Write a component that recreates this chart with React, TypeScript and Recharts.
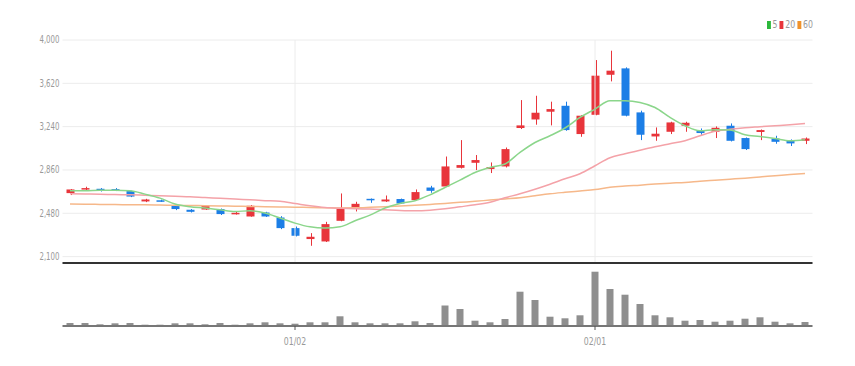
import { ComposedChart, BarChart, Bar, Line, XAxis, YAxis, CartesianGrid, ReferenceLine } from 'recharts';

// trading days, Dec 2022 - Feb 2023
const dates = [
    '12/09', '12/12', '12/13', '12/14', '12/15', '12/16', '12/19', '12/20', '12/21', '12/22',
    '12/23', '12/26', '12/27', '12/28', '12/29', '01/02', '01/03', '01/04', '01/05', '01/06',
    '01/09', '01/10', '01/11', '01/12', '01/13', '01/16', '01/17', '01/18', '01/19', '01/20',
    '01/25', '01/26', '01/27', '01/30', '01/31', '02/01', '02/02', '02/03', '02/06', '02/07',
    '02/08', '02/09', '02/10', '02/13', '02/14', '02/15', '02/16', '02/17', '02/20', '02/21',
];

const opens = [
    2657, 2695, 2695, 2692, 2675, 2584, 2594, 2552, 2511, 2513,
    2517, 2473, 2452, 2487, 2443, 2350, 2254, 2233, 2414, 2520,
    2607, 2584, 2605, 2596, 2706, 2715, 2879, 2923, 2868, 2891,
    3228, 3303, 3371, 3423, 3175, 3344, 3695, 3751, 3365, 3154,
    3195, 3248, 3207, 3195, 3248, 3140, 3193, 3136, 3119, 3116,
];
const highs = [
    2692, 2713, 2701, 2701, 2678, 2607, 2600, 2559, 2517, 2549,
    2522, 2493, 2552, 2493, 2455, 2364, 2306, 2405, 2654, 2581,
    2610, 2636, 2609, 2689, 2721, 2978, 3122, 2991, 2926, 3057,
    3473, 3511, 3459, 3459, 3340, 3824, 3906, 3760, 3380, 3233,
    3283, 3283, 3224, 3242, 3268, 3145, 3215, 3160, 3128, 3145,
];
const lows = [
    2640, 2682, 2671, 2675, 2622, 2578, 2580, 2508, 2487, 2510,
    2465, 2469, 2450, 2448, 2341, 2277, 2195, 2228, 2410, 2496,
    2572, 2580, 2562, 2590, 2660, 2710, 2873, 2859, 2833, 2882,
    3219, 3257, 3251, 3204, 3151, 3340, 3637, 3330, 3122, 3116,
    3175, 3195, 3169, 3140, 3110, 3035, 3122, 3090, 3070, 3087,
];
const closes = [
    2689, 2701, 2678, 2682, 2627, 2601, 2584, 2517, 2493, 2546,
    2473, 2484, 2546, 2452, 2350, 2283, 2274, 2385, 2526, 2563,
    2596, 2601, 2566, 2666, 2677, 2891, 2903, 2947, 2885, 3043,
    3251, 3362, 3394, 3210, 3336, 3687, 3731, 3336, 3169, 3178,
    3277, 3274, 3184, 3230, 3116, 3043, 3210, 3107, 3093, 3136,
];

const ma5 = [
    2677, 2677, 2682, 2682, 2677, 2648, 2613, 2561, 2537, 2526,
    2511, 2496, 2502, 2482, 2438, 2394, 2361, 2350, 2361, 2414,
    2464, 2526, 2566, 2590, 2642, 2706, 2771, 2838, 2882, 2912,
    3014, 3101, 3160, 3228, 3321, 3394, 3467, 3467, 3452, 3408,
    3321, 3248, 3204, 3213, 3210, 3169, 3154, 3136, 3116, 3125,
];
const ma20 = [
    2651, 2649, 2647, 2644, 2642, 2638, 2634, 2629, 2625, 2618,
    2612, 2605, 2598, 2591, 2585, 2566, 2546, 2531, 2524, 2519,
    2517, 2511, 2505, 2502, 2507, 2519, 2537, 2555, 2577, 2616,
    2651, 2691, 2735, 2783, 2827, 2897, 2967, 3002, 3033, 3064,
    3090, 3116, 3160, 3200, 3217, 3230, 3239, 3248, 3257, 3268,
];
const ma60 = [
    2561, 2559, 2558, 2557, 2555, 2554, 2552, 2550, 2548, 2547,
    2545, 2542, 2540, 2537, 2535, 2534, 2531, 2529, 2527, 2528,
    2532, 2537, 2543, 2550, 2558, 2566, 2576, 2585, 2596, 2606,
    2616, 2634, 2651, 2664, 2676, 2688, 2708, 2719, 2727, 2736,
    2744, 2751, 2761, 2770, 2779, 2788, 2799, 2809, 2820, 2829,
];

const volumes = [
    300, 300, 170, 270, 300, 130, 130, 270, 270, 170,
    300, 130, 270, 370, 270, 230, 370, 370, 970, 370,
    270, 270, 270, 470, 300, 2050, 1700, 530, 370, 700,
    3430, 2600, 930, 770, 1070, 5430, 3700, 3130, 2200, 1070,
    870, 530, 600, 430, 530, 730, 870, 430, 270, 400,
];

const priceTicks = [2100, 2480, 2860, 3240, 3620, 4000];
const dateTicks = ['01/02', '02/01'];
const legendLabels = ['5', '20', '60'];

const RISE = '#e8353b';
const FALL = '#1c7ee6';
const LEGEND_COLORS = ['#2cb83c', '#e8353b', '#f0922a'];
const FONT = "'DejaVu Sans', sans-serif";

const rows = dates.map((date, i) => ({
    date,
    open: opens[i],
    high: highs[i],
    low: lows[i],
    close: closes[i],
    range: [lows[i], highs[i]],
    ma5: ma5[i],
    ma20: ma20[i],
    ma60: ma60[i],
    volume: volumes[i],
}));

function Candle(props: any) {
    const { x, y, width, height, payload } = props;
    const top = Math.min(y, y + height);
    const h = Math.abs(height);
    const { open, close, high, low } = payload;
    const color = close >= open ? RISE : FALL;
    const yOf = (v: number) => top + ((high - v) / (high - low)) * h;
    const cx = Math.round(x + width / 2) + 0.5;
    const bTop = yOf(Math.max(open, close));
    const bBot = yOf(Math.min(open, close));
    return (
        <g>
            <line x1={cx} x2={cx} y1={top} y2={top + h} stroke={color} strokeWidth={1} />
            <rect x={x} y={bTop} width={width} height={Math.max(bBot - bTop, 1.5)} fill={color} />
        </g>
    );
}

function PriceTick(props: any) {
    const { x, y, payload } = props;
    return (
        <text
            x={x}
            y={y}
            dy={3.5}
            textAnchor="end"
            fill="#999"
            fontSize={10}
            fontFamily={FONT}
            style={{ fontStretch: 'condensed' }}
            transform={`translate(${x} 0) scale(0.78 1) translate(${-x} 0)`}
        >
            {payload.value.toLocaleString('en-US')}
        </text>
    );
}

function DateTick(props: any) {
    const { x, y, payload } = props;
    if (!dateTicks.includes(payload.value)) return <g />;
    return (
        <g>
            <line x1={x} x2={x} y1={y} y2={y + 4} stroke="#555" strokeWidth={1} />
            <text
                x={x}
                y={y + 19}
                textAnchor="middle"
                fill="#999"
                fontSize={10}
                fontFamily={FONT}
                transform={`translate(${x} 0) scale(0.78 1) translate(${-x} 0)`}
            >
                {payload.value}
            </text>
        </g>
    );
}

function App() {
    return (
        <div style={{ position: 'absolute', left: 0, top: 0, width: 855, height: 366, background: '#fff' }}>
            <div style={{ position: 'absolute', left: 0, top: 0 }}>
                <ComposedChart
                    width={855}
                    height={270}
                    data={rows}
                    margin={{ top: 40, right: 42.5, left: 0.5, bottom: 6 }}
                >
                    <CartesianGrid vertical={false} stroke="#ececec" />
                    <ReferenceLine x="01/02" stroke="#ececec" />
                    <ReferenceLine x="02/01" stroke="#ececec" />
                    <XAxis
                        dataKey="date"
                        tick={false}
                        tickLine={false}
                        height={1}
                        axisLine={{ stroke: '#333', strokeWidth: 2 }}
                    />
                    <YAxis
                        domain={[2044, 4000]}
                        ticks={priceTicks}
                        width={62}
                        axisLine={false}
                        tickLine={false}
                        tickSize={0}
                        tickMargin={3}
                        allowDataOverflow
                        tick={<PriceTick />}
                    />
                    <Bar dataKey="range" barSize={8} shape={<Candle />} isAnimationActive={false} />
                    <Line type="monotone" dataKey="ma60" stroke="#f6b88a" strokeWidth={1.5} dot={false} isAnimationActive={false} />
                    <Line type="monotone" dataKey="ma20" stroke="#f4a2a8" strokeWidth={1.5} dot={false} isAnimationActive={false} />
                    <Line type="monotone" dataKey="ma5" stroke="#8bd68b" strokeWidth={1.5} dot={false} isAnimationActive={false} />
                </ComposedChart>
            </div>
            <div style={{ position: 'absolute', left: 0, top: 263 }}>
                <BarChart
                    width={855}
                    height={103}
                    data={rows}
                    margin={{ top: 7, right: 42.5, left: 62.5, bottom: 0 }}
                >
                    <XAxis
                        dataKey="date"
                        interval={0}
                        height={40}
                        tickSize={0}
                        tickMargin={0}
                        tickLine={false}
                        axisLine={{ stroke: '#777', strokeWidth: 2 }}
                        tick={<DateTick />}
                    />
                    <YAxis hide domain={[0, 5600]} />
                    <Bar dataKey="volume" barSize={7} fill="#8f8f8f" isAnimationActive={false} />
                </BarChart>
            </div>
            <div
                style={{
                    position: 'absolute',
                    left: 767,
                    top: 19,
                    display: 'flex',
                    alignItems: 'center',
                    fontFamily: FONT,
                    fontSize: 10,
                    color: '#999',
                    transform: 'scaleX(0.78)',
                    transformOrigin: 'left center',
                }}
            >
                {legendLabels.map((label, i) => (
                    <div key={label} style={{ display: 'flex', alignItems: 'center', marginRight: 3 }}>
                        <span style={{ display: 'inline-block', width: 5, height: 8, background: LEGEND_COLORS[i], marginRight: 2 }} />
                        <span>{label}</span>
                    </div>
                ))}
            </div>
        </div>
    );
}

export default App;
